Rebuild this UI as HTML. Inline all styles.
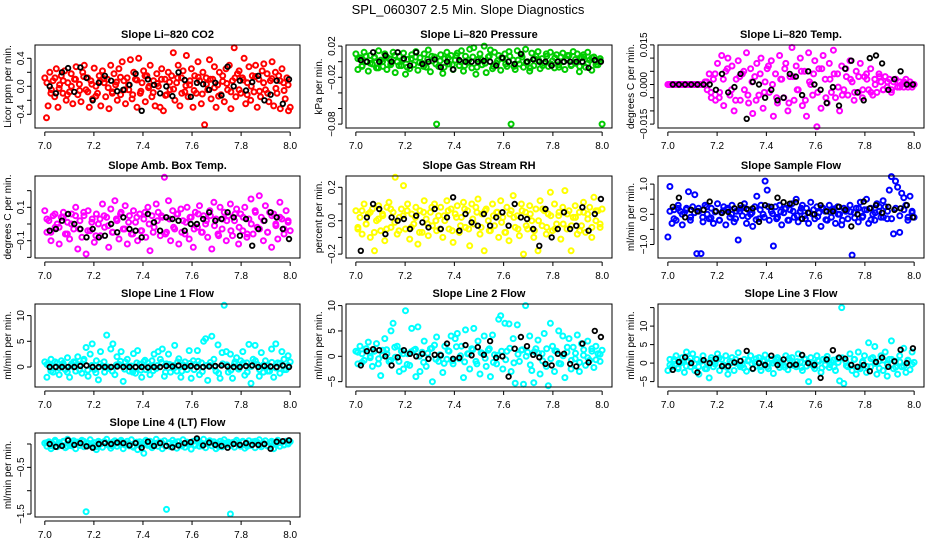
<!DOCTYPE html>
<html><head><meta charset="utf-8"><title>SPL_060307 Slope Diagnostics</title>
<style>
html,body{margin:0;padding:0;background:#fff;}
svg{display:block;font-family:"Liberation Sans",sans-serif;}
</style></head>
<body>
<svg id="chart" width="936" height="540" viewBox="0 0 936 540" xmlns="http://www.w3.org/2000/svg">
<rect x="0" y="0" width="936" height="540" fill="#fff"/>
<text x="468" y="14" text-anchor="middle" font-size="13">SPL_060307  2.5 Min. Slope Diagnostics</text>
</svg>
<script>
const xTicks = [7.0, 7.2, 7.4, 7.6, 7.8, 8.0];
const xTickLabels = ["7.0", "7.2", "7.4", "7.6", "7.8", "8.0"];

const co2Color = [0.12,-0.45,-0.28,0.2,-0.05,0.08,-0.15,0.25,-0.3,0.02,0.15,-0.1,0.22,-0.2,0.05,-0.08,0.18,-0.25,0.1,0.28,-0.12,0.03,-0.22,0.2,0.3,-0.05,0.12,-0.3,0.08,-0.18,0.26,0.0,-0.1,0.15,-0.28,0.22,0.05,-0.15,0.1,-0.32,0.3,-0.08,0.18,0.02,-0.2,0.25,-0.12,0.35,0.08,-0.25,0.12,-0.05,0.38,-0.18,0.2,0.1,-0.3,0.4,-0.1,0.05,0.22,-0.22,0.15,-0.02,0.3,-0.15,0.08,-0.28,0.18,0.0,-0.3,0.25,-0.35,0.1,-0.12,0.2,-0.05,0.15,0.48,-0.2,0.05,0.3,-0.28,0.12,0.22,-0.08,0.44,-0.15,0.02,0.25,-0.3,0.15,-0.1,0.35,0.08,-0.25,0.2,-0.55,0.12,-0.05,0.38,-0.18,0.1,0.28,-0.3,0.02,0.2,-0.12,0.15,-0.22,0.25,-0.05,0.3,-0.32,0.08,0.55,-0.15,0.18,0.22,-0.1,0.12,0.4,-0.25,0.05,0.28,-0.2,0.15,-0.08,0.3,-0.3,0.1,-0.15,0.22,0.32,-0.05,0.18,-0.22,0.08,0.35,-0.28,0.2,-0.1,0.15,-0.32,0.25,0.05,-0.18,0.12,-0.35,-0.3];
const co2Core = [0.05,-0.1,0.12,-0.03,0.08,-0.12,0.0,0.1,-0.06,0.14,-0.08,0.03,-0.14,0.07,0.11,-0.02,-0.1,0.06,0.13,-0.05,0.02,-0.12,0.09,-0.07,0.15,0.0,-0.09,0.04,0.1,-0.13,0.06,-0.04,0.12,-0.1,0.01,0.08,-0.06,0.13,-0.11,0.03,0.1,-0.02,-0.14,0.07,0.04,-0.08,0.12,-0.05,0.09,-0.12,0.0,0.14,-0.07,0.05,-0.1,0.11,-0.03,0.08,-0.06,0.02];
const co2Black = [0.0,-0.1,0.2,0.26,-0.08,0.27,0.12,-0.2,0.05,0.15,0.08,-0.07,-0.05,0.02,0.18,-0.35,0.1,0.02,-0.1,0.0,-0.14,0.2,0.09,-0.15,0.05,0.03,-0.05,0.05,-0.13,0.28,0.0,0.08,-0.06,0.06,0.15,-0.2,-0.12,0.08,-0.25,0.1];

const presColor = [0.01,-0.01,0.005,-0.005,0.012,0.0,-0.012,0.008,-0.003,0.006,-0.008,0.014,0.002,-0.006,0.01,-0.01,0.004,-0.002,0.012,-0.014,0.0,0.007,-0.005,0.011,-0.016,0.003,-0.009,0.009,-0.004,0.013,-0.011,0.005,-0.002,0.01,-0.007,0.015,-0.013,0.001,0.006,-0.08,-0.006,0.009,-0.015,0.004,0.012,-0.003,0.008,-0.01,0.002,0.011,-0.005,0.014,-0.012,0.007,-0.001,0.016,-0.008,0.018,-0.016,0.003,0.01,-0.004,0.02,-0.014,0.006,0.015,-0.009,0.012,-0.002,0.008,-0.011,0.004,0.01,-0.006,0.013,-0.08,0.002,-0.01,0.014,-0.003,0.009,-0.007,0.016,0.0,-0.012,0.011,-0.005,0.007,0.013,-0.009,0.004,-0.002,0.01,-0.006,0.012,0.001,-0.008,0.009,-0.004,0.006,0.011,-0.01,0.003,0.008,-0.005,0.013,-0.002,0.01,-0.013,0.005,0.009,-0.007,0.012,0.002,-0.011,0.006,0.0,-0.004,0.004,-0.08];
const presCore = [0.004,-0.006,0.007,-0.002,0.005,-0.008,0.0,0.006,-0.004,0.008,-0.005,0.002,-0.007,0.004,0.006,-0.001,-0.006,0.003,0.007,-0.003,0.001,-0.007,0.005,-0.004,0.008,0.0,-0.005,0.002,0.006,-0.007,0.003,-0.002,0.007,-0.006,0.001,0.005,-0.003,0.007,-0.006,0.002,0.006,-0.001,-0.008,0.004,0.002,-0.005,0.007,-0.003,0.005,-0.007,0.0,0.008,-0.004,0.003,-0.006,0.006,-0.002,0.005,-0.004,0.001];
const presBlack = [0.002,0.0,0.012,0.0,0.008,0.0,0.012,0.004,-0.005,0.012,-0.003,0.0,0.003,-0.007,0.0,-0.01,0.002,0.0,0.0,0.0,0.001,0.0,-0.005,0.005,0.0,-0.003,0.01,0.0,0.003,0.0,0.0,-0.005,0.0,0.0,0.0,0.0,0.0,-0.008,0.002,0.0];

const tempColor = [0,0,0,0,0,0,0,0,0,0,0,0,0,0,0,0,0,0,0.001,-0.002,0.004,-0.005,0.002,-0.006,0.008,-0.003,0.011,-0.008,0.005,0.01,-0.004,0.007,-0.01,0.002,0.009,-0.006,0.004,-0.002,0.012,-0.007,0.006,-0.011,0.003,0.008,-0.004,0.01,-0.009,0.001,0.006,-0.003,0.009,-0.012,0.004,-0.007,0.011,0.002,-0.005,0.008,-0.01,0.003,0.014,-0.006,0.007,-0.002,0.01,-0.008,0.005,-0.012,0.012,0.0,-0.004,0.009,-0.016,0.006,-0.009,0.011,0.002,-0.007,0.008,-0.003,0.013,-0.005,0.004,-0.01,0.007,-0.002,0.006,-0.004,0.009,0.001,-0.006,0.005,-0.003,0.008,-0.005,0.003,0.004,-0.002,0.006,-0.004,0.002,-0.003,0.004,0.001,-0.002,0.003,-0.001,0.002,-0.003,0.001,0.002,-0.001,0.001,0.0,-0.001,0.002,0.0,0.001,-0.001,0.0];
const tempCore = [0,0,0,0,0,0,0,0,0,0.001,-0.003,0.004,-0.005,0.002,0.006,-0.002,-0.006,0.003,0.005,-0.004,0.001,-0.006,0.004,-0.003,0.007,0.0,-0.005,0.002,0.006,-0.007,0.003,-0.002,0.005,-0.006,0.001,0.004,-0.003,0.006,-0.005,0.002,0.004,-0.001,-0.004,0.003,0.002,-0.003,0.003,-0.002,0.002,-0.003,0.0,0.003,-0.002,0.001,-0.002,0.002,-0.001,0.001,-0.001,0.0];
const tempBlack = [0,0,0,0,0,0,0,-0.002,0.004,-0.003,-0.001,0.004,-0.013,0.001,0.0,-0.005,-0.002,-0.006,-0.005,0.004,0.003,-0.004,0.005,0.0,-0.002,-0.007,-0.001,-0.008,0.006,0.009,-0.003,-0.006,0.01,0.011,0.008,-0.002,0.002,0.005,0.0,0.0];

const ambColor = [0.08,-0.05,0.02,-0.1,0.05,-0.02,0.0,-0.12,0.04,0.07,-0.06,0.01,-0.09,0.06,-0.03,0.1,-0.15,0.02,-0.08,0.05,-0.18,0.08,-0.04,0.03,-0.11,0.06,0.0,-0.07,0.12,-0.02,0.04,-0.14,0.09,-0.05,0.14,0.02,-0.09,0.07,-0.03,0.11,-0.12,0.05,-0.06,0.08,0.01,-0.1,0.06,-0.04,0.03,-0.08,0.1,-0.16,0.05,-0.02,0.12,0.07,-0.07,0.04,0.28,-0.05,0.14,-0.1,0.08,-0.03,0.06,-0.12,0.09,0.02,-0.06,0.1,-0.09,0.04,-0.14,0.07,-0.02,0.11,-0.05,0.05,0.0,-0.08,0.08,-0.15,0.13,0.03,-0.06,0.1,-0.03,0.07,-0.1,0.05,0.12,-0.07,0.02,0.09,-0.12,0.06,-0.04,0.1,-0.08,0.03,0.15,-0.06,0.08,-0.02,0.17,0.04,-0.1,0.11,-0.05,0.07,-0.14,0.06,0.0,-0.09,0.13,0.03,-0.06,0.08,0.02,-0.04];
const ambCore = [0.03,-0.05,0.06,-0.02,0.04,-0.06,0.0,0.05,-0.03,0.07,-0.04,0.01,-0.07,0.03,0.05,-0.01,-0.05,0.03,0.06,-0.03,0.01,-0.06,0.04,-0.04,0.07,0.0,-0.05,0.02,0.05,-0.06,0.03,-0.02,0.06,-0.05,0.01,0.04,-0.03,0.06,-0.05,0.02,0.05,-0.01,-0.07,0.03,0.02,-0.04,0.06,-0.02,0.04,-0.06,0.0,0.07,-0.03,0.02,-0.05,0.05,-0.01,0.04,-0.03,0.01];
const ambBlack = [-0.04,-0.03,0.02,0.06,0.0,-0.03,-0.08,-0.03,-0.08,-0.07,0.0,-0.05,0.04,-0.03,-0.04,-0.08,0.06,0.01,-0.04,0.04,0.03,0.02,-0.04,0.0,0.0,0.03,0.07,0.02,0.03,0.07,0.04,-0.07,0.03,-0.13,-0.03,0.02,0.07,0.04,-0.03,-0.09];

const rhColor = [0.06,-0.05,0.02,-0.08,0.1,-0.02,0.04,-0.1,0.07,-0.18,0.0,0.09,-0.06,0.03,-0.12,0.08,0.11,-0.04,0.05,0.26,-0.08,0.02,0.07,0.21,-0.05,0.1,-0.11,0.04,-0.02,0.08,-0.14,0.06,-0.07,0.12,0.01,-0.09,0.05,-0.03,0.1,-0.06,0.03,0.08,-0.1,0.0,0.12,-0.05,0.07,-0.13,0.04,0.09,-0.07,0.02,0.11,-0.04,0.06,-0.15,0.1,-0.02,0.08,0.13,-0.08,0.04,-0.18,0.07,0.0,-0.06,0.1,-0.03,0.05,-0.1,0.12,0.02,-0.07,0.08,-0.12,0.06,0.15,-0.04,0.03,-0.09,0.1,-0.2,0.05,-0.05,0.09,0.0,-0.1,0.07,-0.18,0.12,-0.03,0.06,-0.08,0.04,0.17,-0.06,0.1,-0.02,0.03,-0.11,0.08,0.18,-0.05,0.06,-0.18,0.02,0.09,-0.08,0.05,-0.03,0.11,-0.07,0.04,0.08,-0.1,0.14,0.0,0.06,-0.04,0.07];
const rhCore = [-0.04,0.06,-0.02,0.05,-0.07,0.01,0.04,-0.05,0.07,-0.01,-0.06,0.03,0.06,-0.04,0.02,-0.07,0.05,-0.02,0.08,0.0,-0.05,0.03,0.06,-0.06,0.02,-0.03,0.07,-0.05,0.01,0.05,-0.04,0.06,-0.06,0.03,0.05,-0.01,-0.07,0.04,0.02,-0.05,0.06,-0.03,0.04,-0.06,0.0,0.07,-0.04,0.03,-0.05,0.05,-0.02,0.04,-0.03,0.02,-0.06,0.05,0.01,-0.04,0.06,-0.02];
const rhBlack = [-0.18,0.02,0.1,0.07,-0.08,0.02,0.0,0.01,-0.05,0.03,-0.01,-0.04,0.07,-0.05,0.02,0.14,-0.06,0.04,-0.01,-0.03,0.04,-0.03,0.02,0.05,-0.03,0.1,0.02,0.01,-0.05,-0.15,0.07,-0.1,-0.05,0.05,-0.05,-0.03,0.08,-0.06,0.04,0.13];

const flowColor = [-0.75,0.92,-0.3,0.15,-0.2,0.3,0.1,-0.35,0.05,0.2,0.75,-0.1,0.25,0.65,-1.3,0.1,-1.3,-0.25,0.3,0.0,-0.15,0.2,-0.3,0.1,0.35,-0.2,0.05,0.25,-0.35,0.15,-0.1,0.3,-0.25,0.1,-0.85,0.2,-0.05,0.35,-0.3,0.15,0.0,-0.4,0.25,0.6,-0.15,0.3,0.0,1.1,0.8,-0.2,0.1,-1.05,0.25,-0.1,0.3,-0.35,0.05,0.2,-0.2,0.15,0.35,-0.1,0.5,-0.25,0.1,0.3,-0.05,0.2,-0.3,0.4,0.0,-0.15,0.25,0.05,-0.4,0.2,0.1,-0.2,0.3,-0.1,0.15,-0.3,0.25,0.0,-0.35,0.2,0.1,-0.15,0.3,-1.35,0.05,0.2,-0.25,0.4,-0.1,0.15,0.5,-0.3,0.2,0.0,-0.2,0.35,0.1,-0.1,0.45,0.25,-0.15,0.8,1.25,-0.65,1.1,0.9,-0.6,0.7,0.55,0.3,-0.2,0.6,0.1,-0.1];
const flowCore = [0.1,-0.15,0.2,0.0,0.15,-0.2,0.05,0.2,-0.1,0.25,-0.12,0.08,-0.2,0.12,0.2,0.0,-0.15,0.1,0.22,-0.08,0.05,-0.18,0.15,-0.1,0.25,0.02,-0.15,0.08,0.18,-0.2,0.1,-0.05,0.2,-0.15,0.05,0.15,-0.08,0.22,-0.18,0.08,0.18,0.0,-0.2,0.12,0.08,-0.12,0.2,-0.06,0.15,-0.18,0.05,0.25,-0.1,0.1,-0.15,0.2,-0.05,0.15,-0.1,0.05];
const flowBlack = [0.25,0.55,-0.1,0.15,0.1,0.15,0.42,0.1,0.05,0.08,0.2,0.3,0.18,0.2,-0.25,0.3,0.25,0.55,0.4,0.35,0.4,-0.15,0.05,0.0,0.3,0.1,0.1,0.25,0.15,-0.4,0.0,0.42,0.2,0.3,0.05,0.25,0.15,0.2,0.3,-0.1];

const line1Color = [1,-2,0.5,1.5,-1,0,0.8,-1.5,1.2,0.3,-0.5,1.8,-2,0.6,1,-0.8,2,0.4,-1.2,1.5,3.8,-1.8,2.5,4.5,-0.5,1.2,-2.5,3,0.2,-1,6.2,-0.3,3.5,4.5,-1.5,2,0.5,3,-2.8,1,1.5,-0.8,0.2,2.6,-1.2,3.2,0.5,-2,1,-0.5,0.8,-1.5,1.2,2.5,-0.3,3,1.5,3.5,-1.8,0.6,2.5,-1,0.3,4.2,-0.8,1.6,-2,0.4,1,-0.5,3.2,-2.2,1.2,0.5,3.2,-1.5,0.8,5,5.5,-2.6,0.3,6,1.5,-0.8,4.3,-2.2,2.8,12,3,-1,2.5,-2.2,0.6,1.8,-0.4,1.2,3,-1.6,0.8,4.4,-3.2,1.5,4.2,0.5,-1.8,2.8,-1,1.2,0.3,-0.8,3.5,-2,4.5,0.8,-1.2,3,1.5,-0.5,2.2,1];
const line1Core = [0.5,-0.8,1,-0.2,0.7,-1,0.2,0.9,-0.5,1.2,-0.6,0.3,-1.1,0.6,1,0,-0.8,0.4,1.1,-0.4,0.2,-1,0.8,-0.6,1.3,0.1,-0.7,0.3,0.9,-1,0.5,-0.3,1,-0.8,0.2,0.7,-0.5,1.1,-0.9,0.3,0.9,0,-1.2,0.6,0.4,-0.6,1,-0.3,0.8,-1,0.1,1.2,-0.5,0.4,-0.8,0.9,-0.2,0.7,-0.5,0.3];
const line1Black = [0,0,0,0,0,0.2,0.3,0,0,0,0,0.1,0,0,0,0,-0.1,0,0,0.2,0.1,0.3,0,0.2,0,0,0.1,0.2,0.3,0.1,0,0,0.2,0.3,0,0.2,0.1,0,0.3,0];

const line2Color = [1,-1.5,2,0.5,-0.8,1.5,2.8,0,-2,1,2.5,-0.5,-3.8,1.2,3.5,0.5,-1,5,6.5,-0.2,2,-3,1,-2.5,9,0.5,-1.8,5.5,1.2,-4,5.8,-3,0.8,3,-2,-0.5,1.5,-5,2.2,3.8,-1,0.2,-3.2,2,-0.6,1,4,-1.5,3.5,4.5,-0.5,2,-4.2,5.2,0.5,-2.5,1.5,5.5,-1,3,-3.5,0.6,4,-2,1.2,-4,4.2,0.3,-1.5,7.3,8,-2.5,6.5,1,6.4,-3,3.5,-5.3,6.2,-1,1.2,-5.5,10,0.8,4,-2.8,-5.2,1.5,3.2,-3.5,0.5,4.5,-2,-5.8,6.5,2,-3,1,5,-1.5,4,-4.2,0.8,3.5,-2.5,1.8,-0.5,4.2,-3,2.5,0.2,-1.8,3,-0.8,1.5,-2.2,2,0.5,-1,1.2];
const line2Core = [0.8,-1.2,1.5,-0.3,1,-1.5,0.2,1.3,-0.8,1.8,-1,0.5,-1.6,0.9,1.4,0,-1.2,0.6,1.6,-0.6,0.3,-1.4,1.1,-0.9,1.9,0.1,-1.1,0.5,1.3,-1.5,0.7,-0.4,1.5,-1.2,0.2,1,-0.7,1.6,-1.3,0.4,1.3,0,-1.7,0.9,0.6,-0.9,1.5,-0.5,1.1,-1.4,0.1,1.8,-0.8,0.6,-1.2,1.3,-0.3,1,-0.7,0.4];
const line2Black = [-1.8,1,1.4,1.2,0,-1.8,-0.2,1.2,0.5,0,0.5,-0.5,0.3,0.2,2.5,-0.5,-0.3,2.2,0.2,1.8,0.3,3,-0.3,0,-4,1.5,3.8,2,0.3,-0.2,-1.5,-1.8,0.5,0.5,-1.5,-2,2.5,-1.2,5,3.8];

const line3Color = [-2,1,-1,0.5,2,-1.5,0,1.5,-2.5,3,0.5,-1,2.5,-2,1,-3,0.5,2,-1.5,0,-4,1.5,-1,0.5,2.5,-2,1,-0.5,2,-3,0.5,1.5,-2,0,2.8,-1,-0.5,1,-2.2,0.8,2,-1.5,0.2,-0.8,1.5,-2,0.5,2.2,-1,0,1,-2.8,0.5,1.5,-1.2,0.2,-0.5,2,-1.8,0.8,1.5,-0.5,-1,2.5,0.3,-2,1.2,-0.8,-5,1.5,0,-1.5,2,0.5,-2.5,1,-0.5,1.8,-1.2,0.3,0.8,-2,1.2,-4.8,15,-5.5,0.5,-1,2.5,-2,1,-3,3,-1.5,0.2,2,-2.5,5.5,-1,1.5,4.5,-3,0.5,2,-2,3,-3.5,1,6,-1.5,0.5,-3,2,-1,4,-2.5,0.8,-1.8,3,0.2];
const line3Core = [-0.5,1,-1.2,0.3,-0.8,1.3,-0.2,-1,0.7,-1.5,0.8,-0.3,1.4,-0.8,-1.2,0.1,1,-0.5,-1.3,0.6,-0.2,1.2,-1,0.8,-1.5,0,1,-0.5,-1.1,1.3,-0.6,0.4,-1.2,1,-0.2,-0.9,0.7,-1.3,1.1,-0.4,-1,0.2,1.4,-0.7,-0.5,1,-1.2,0.5,-0.9,1.2,-0.1,-1.4,0.8,-0.4,1,-1.1,0.3,-0.8,0.6,-0.3];
const line3Black = [-1.8,0.3,1.6,0,-2.5,0.8,0,1.2,-0.8,-0.8,0.2,0.6,3.3,-1.5,0,-0.5,2,-0.5,1,-0.5,-0.4,2.2,0,-0.5,-4,1,3.5,1.5,1.2,-0.5,-1,-0.5,-2.2,0.3,1.5,-1,0.5,3.6,0,4];

const line4Color = [0.02,-0.05,0.05,-0.1,0.0,0.08,-0.06,0.03,-0.02,0.06,-0.08,0.1,0.01,-0.04,0.07,-0.1,0.04,-0.03,0.08,-0.06,-1.45,0.02,0.09,-0.05,0.03,-0.12,0.06,0.0,-0.07,0.05,0.1,-0.03,-0.09,0.04,0.07,-0.05,0.02,0.08,-0.1,0.01,0.06,-0.04,0.09,-0.07,0.03,-0.12,0.05,0.0,-0.2,0.08,-0.03,0.06,-0.08,0.02,0.1,-0.05,0.04,-0.1,0.07,-1.4,0.01,-0.06,0.08,0.03,-0.09,0.05,-0.02,0.09,-0.07,0.04,0.0,-0.11,0.06,-0.03,0.08,-0.05,0.02,0.1,-0.08,0.03,0.07,-0.04,0.05,-0.1,0.01,0.06,-0.06,0.09,-0.02,0.04,-1.5,0.03,-0.07,0.08,0.0,-0.05,0.06,-0.09,0.02,0.07,-0.03,0.05,-0.08,0.04,0.09,-0.06,0.01,0.07,-0.04,0.03,0.06,-0.1,0.02,0.08,-0.05,0.04,-0.02,0.06,0.0,0.05];
const line4Core = [0.03,-0.04,0.05,-0.01,0.04,-0.05,0.0,0.04,-0.03,0.06,-0.04,0.01,-0.06,0.03,0.05,0.0,-0.04,0.02,0.05,-0.02,0.01,-0.05,0.04,-0.03,0.06,0.0,-0.04,0.02,0.04,-0.05,0.03,-0.01,0.05,-0.04,0.01,0.03,-0.02,0.05,-0.04,0.01,0.04,0.0,-0.06,0.03,0.02,-0.03,0.05,-0.02,0.04,-0.05,0.0,0.06,-0.03,0.02,-0.04,0.04,-0.01,0.03,-0.02,0.01];
const line4Black = [0.0,-0.06,-0.04,0.08,-0.02,0.02,-0.05,-0.08,0.0,0.02,0.0,0.03,0.02,-0.03,0.02,-0.08,0.05,-0.04,0.02,-0.04,-0.07,-0.03,0.02,0.04,0.12,-0.03,0.03,-0.02,-0.04,-0.08,0.0,-0.02,0.02,-0.02,-0.02,0.0,-0.1,0.05,0.06,0.08];

const NS = "http://www.w3.org/2000/svg";
const svg = document.getElementById("chart");
const cols = [[35,300],[346,612],[658,924]];
const rows = [[45,128],[176,258],[304,387],[433,517]];

function mk(tag, attrs, parent) {
  const e = document.createElementNS(NS, tag);
  for (const k in attrs) e.setAttribute(k, attrs[k]);
  parent.appendChild(e);
  return e;
}

const panels = [
  {name:"co2", title:"Slope Li\u2013820 CO2", ylab:"Licor ppm per min.", c:0, r:0, color:"#ff0000", data:co2Color, core:co2Core, black:co2Black, y0:86.3, ppu:70, ticks:[-0.4,-0.2,0,0.2,0.4], labels:{"-0.4":"\u22120.4","0":"0.0","0.4":"0.4"}},
  {name:"pressure", title:"Slope Li\u2013820 Pressure", ylab:"kPa per min.", c:1, r:0, color:"#00cc00", data:presColor, core:presCore, black:presBlack, y0:61.7, ppu:780, ticks:[-0.08,-0.06,-0.04,-0.02,0,0.02], labels:{"-0.08":"\u22120.08","-0.02":"\u22120.02","0.02":"0.02"}},
  {name:"temp", title:"Slope Li\u2013820 Temp.", ylab:"degrees C per min.", c:2, r:0, color:"#ff00ff", data:tempColor, core:tempCore, black:tempBlack, y0:84.5, ppu:2640, ticks:[-0.015,-0.01,-0.005,0,0.005,0.01,0.015], labels:{"-0.015":"\u22120.015","0":"0.000","0.015":"0.015"}},
  {name:"amb-box-temp", title:"Slope Amb. Box Temp.", ylab:"degrees C per min.", c:0, r:1, color:"#ff00ff", data:ambColor, core:ambCore, black:ambBlack, y0:224, ppu:166.7, ticks:[-0.2,-0.1,0,0.1,0.2], labels:{"-0.1":"\u22120.1","0.1":"0.1"}},
  {name:"gas-stream-rh", title:"Slope Gas Stream RH", ylab:"percent per min.", c:1, r:1, color:"#ffff00", data:rhColor, core:rhCore, black:rhBlack, y0:220.7, ppu:167, ticks:[-0.2,-0.1,0,0.1,0.2], labels:{"-0.2":"\u22120.2","0":"0.0","0.2":"0.2"}},
  {name:"sample-flow", title:"Slope Sample Flow", ylab:"ml/min per min.", c:2, r:1, color:"#0000ff", data:flowColor, core:flowCore, black:flowBlack, y0:214.3, ppu:30.2, ticks:[-1,-0.5,0,0.5,1], labels:{"-1":"\u22121.0","0":"0.0","1":"1.0"}},
  {name:"line1-flow", title:"Slope Line 1 Flow", ylab:"ml/min per min.", c:0, r:2, color:"#00ffff", data:line1Color, core:line1Core, black:line1Black, y0:367, ppu:5.14, ticks:[0,5,10], labels:{"0":"0","5":"5","10":"10"}},
  {name:"line2-flow", title:"Slope Line 2 Flow", ylab:"ml/min per min.", c:1, r:2, color:"#00ffff", data:line2Color, core:line2Core, black:line2Black, y0:356.3, ppu:5.07, ticks:[-5,0,5,10], labels:{"-5":"\u22125","0":"0","5":"5","10":"10"}},
  {name:"line3-flow", title:"Slope Line 3 Flow", ylab:"ml/min per min.", c:2, r:2, color:"#00ffff", data:line3Color, core:line3Core, black:line3Black, y0:363.1, ppu:3.7, ticks:[-5,0,5,10,15], labels:{"-5":"\u22125","0":"0","5":"5","10":"10"}},
  {name:"line4-flow", title:"Slope Line 4 (LT) Flow", ylab:"ml/min per min.", c:0, r:3, color:"#00ffff", data:line4Color, core:line4Core, black:line4Black, y0:444, ppu:46.7, ticks:[-1.5,-1,-0.5,0], labels:{"-1.5":"\u22121.5","-0.5":"\u22120.5"}}
];

panels.forEach(p => {
  const [L, R] = cols[p.c];
  const [T, B] = rows[p.r];
  const g = mk("g", {}, svg);
  
  
  const span = (R - L) / 1.08;
  const xs = v => L + (v - 7 + 0.04) * span;
  const ys = v => p.y0 - v * p.ppu;

  const t = mk("text", {x:(L+R)/2, y:T-7, "text-anchor":"middle", "font-size":"11", "font-weight":"bold"}, g);
  t.textContent = p.title;
  
  

  const yl = mk("text", {x:0, y:0, "text-anchor":"middle", "font-size":"10", transform:`translate(${L-24},${(T+B)/2}) rotate(-90)`}, g);
  yl.textContent = p.ylab;
  
  

  const pts = mk("g", {fill:"none", "stroke-width":"2"}, g);
  
  
  const n = p.data.length;
  p.data.forEach((v, i) => {
    const c = mk("circle", {cx:xs(7 + i/(n-1)).toFixed(1), cy:ys(v).toFixed(1), r:"2.5", stroke:p.color}, pts);
    
    
  });
  const nc = p.core.length;
  p.core.forEach((v, i) => {
    const c = mk("circle", {cx:xs(7 + (i+0.5)/nc).toFixed(1), cy:ys(v).toFixed(1), r:"2.5", stroke:p.color}, pts);
    
    
  });
  const nb = p.black.length;
  p.black.forEach((v, i) => {
    const c = mk("circle", {cx:xs(7.02 + 0.975*i/(nb-1)).toFixed(1), cy:ys(v).toFixed(1), r:"2.3", stroke:"#000", "stroke-width":"1.8"}, pts);
    
    
  });

  const box = mk("rect", {x:L, y:T, width:R-L, height:B-T, fill:"none", stroke:"#000", "stroke-width":"1"}, g);
  
  

  const xa = mk("g", {stroke:"#000", "font-size":"10"}, g);
  
  
  mk("line", {x1:xs(xTicks[0]), x2:xs(xTicks[xTicks.length-1]), y1:B+4, y2:B+4}, xa);
  xTicks.forEach((v, i) => {
    mk("line", {x1:xs(v), x2:xs(v), y1:B+4, y2:B+8}, xa);
    const lt = mk("text", {x:xs(v), y:B+21, "text-anchor":"middle", stroke:"none", fill:"#000"}, xa);
    lt.textContent = xTickLabels[i];
    
    
  });

  const ya = mk("g", {stroke:"#000", "font-size":"10"}, g);
  
  
  mk("line", {x1:L-4, x2:L-4, y1:ys(p.ticks[0]), y2:ys(p.ticks[p.ticks.length-1])}, ya);
  p.ticks.forEach(v => {
    mk("line", {x1:L-8, x2:L-4, y1:ys(v), y2:ys(v)}, ya);
    const key = String(v);
    if (p.labels[key] !== undefined) {
      const lt = mk("text", {x:0, y:0, "text-anchor":"middle", stroke:"none", fill:"#000", transform:`translate(${L-11},${ys(v)}) rotate(-90)`}, ya);
      lt.textContent = p.labels[key];
      
      
    }
  });
});
</script>
</body></html>
